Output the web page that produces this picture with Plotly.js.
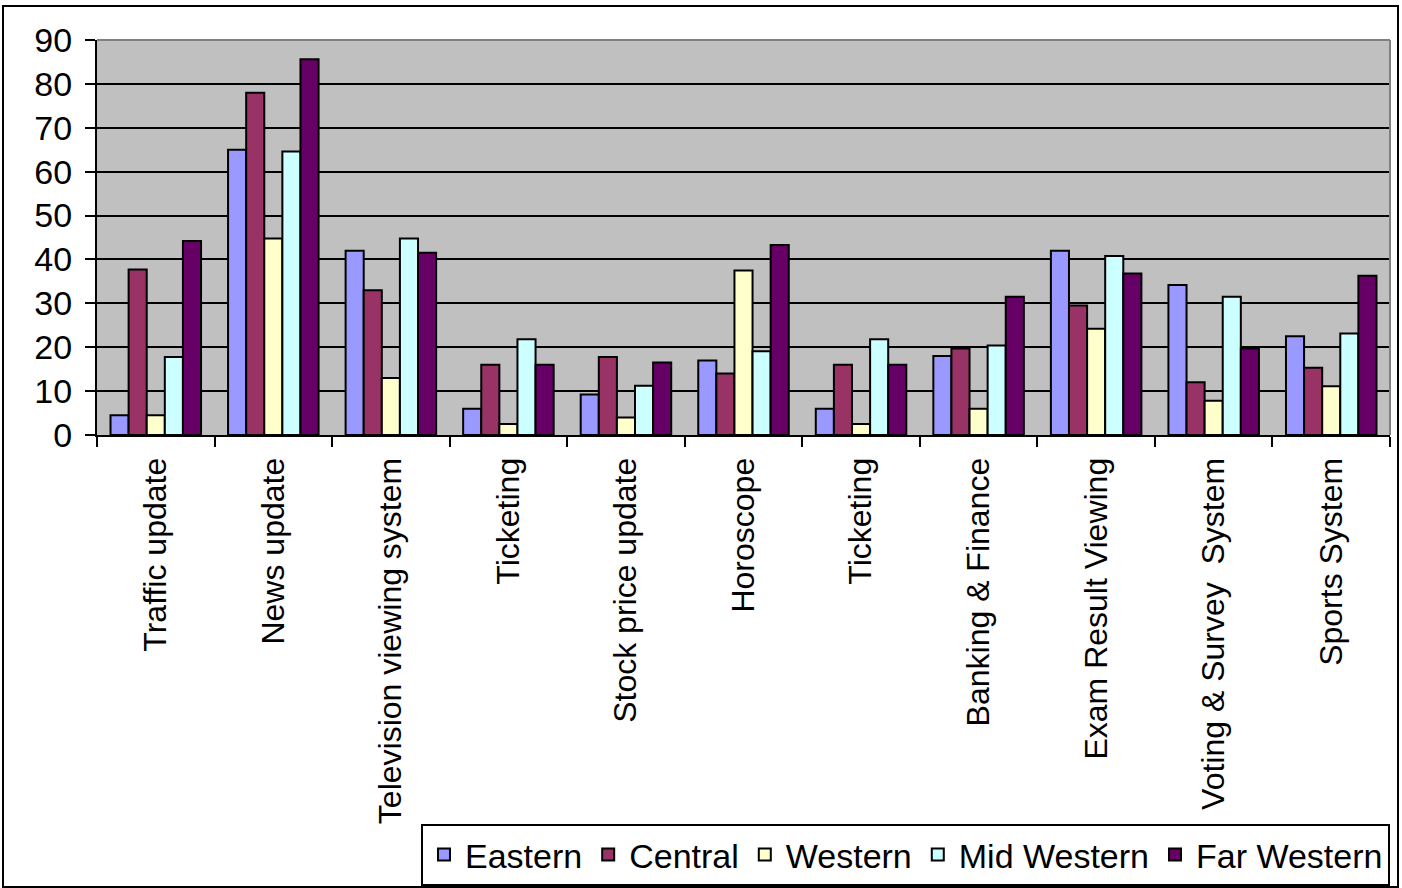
<!DOCTYPE html>
<html>
<head>
<meta charset="utf-8">
<script src="https://cdn.plot.ly/plotly-3.0.1.min.js"></script>
<style>
  html, body { margin: 0; padding: 0; background: #ffffff; overflow: hidden; }
  #chart { width: 1402px; height: 888px; }
</style>
</head>
<body>
<div id="chart"></div>
<script>
// Services by region
const categories = [
  "Traffic update", "News update", "Television viewing system", "Ticketing",
  "Stock price update", "Horoscope", "Ticketing", "Banking & Finance",
  "Exam Result Viewing", "Voting & Survey  System", "Sports System"
];
const regions = ["Eastern", "Central", "Western", "Mid Western", "Far Western"];
const eastern    = [4.5, 65,   42,   6,   9.2, 17,   6,   18,   42,   34.2, 22.5];
const central    = [37.7, 78,  33,   16,  17.8, 14,   16,  19.7, 29.5, 12,   15.3];
const western    = [4.5, 44.8, 13,   2.5, 4,   37.5, 2.5, 6,    24.2, 7.8,  11.1];
const midWestern = [17.8, 64.6, 44.8, 21.8, 11.2, 19.1, 21.8, 20.4, 40.8, 31.5, 23.1];
const farWestern = [44.2, 85.6, 41.5, 16,  16.5, 43.3, 16,  31.5, 36.8, 19.7, 36.3];
const yTicks = [0, 10, 20, 30, 40, 50, 60, 70, 80, 90];

const seriesValues = [eastern, central, western, midWestern, farWestern];
const colors = ["#9999FF", "#993366", "#FFFFCC", "#CCFFFF", "#660066"];

// Repeated category names get a zero-width suffix so each keeps its own slot
const seen = {};
const xKeys = categories.map(c => {
  const n = seen[c] || 0;
  seen[c] = n + 1;
  return c + "\u200B".repeat(n);
});

const FONT = "Liberation Sans, Arial, sans-serif";

const traces = regions.map((name, i) => ({
  type: "bar",
  name: name,
  x: xKeys,
  y: seriesValues[i],
  marker: { color: colors[i], line: { color: "#000000", width: 2 } }
}));

const L = 97, R = 12, T = 40, B = 453;
const W = 1402, H = 888;
const pw = W - L - R, ph = H - T - B;
const px = v => (v - L) / pw;
const py = v => (H - B - v) / ph;

const layout = {
  width: W, height: H,
  margin: { l: L, r: R, t: T, b: B, pad: 0, autoexpand: false },
  paper_bgcolor: "#ffffff",
  plot_bgcolor: "#C0C0C0",
  barmode: "group",
  bargap: 0.23,
  bargroupgap: 0,
  font: { family: FONT, color: "#000000" },
  showlegend: true,
  legend: {
    orientation: "h",
    xref: "container", yref: "container",
    x: 1390 / W, xanchor: "right",
    y: (H - 886) / H, yanchor: "bottom",
    bgcolor: "#ffffff",
    bordercolor: "#000000",
    borderwidth: 2,
    itemwidth: 32,
    font: { family: FONT, size: 34, color: "#000000" },
    itemclick: false
  },
  xaxis: {
    type: "category",
    tickangle: -90,
    tickson: "boundaries",
    ticks: "outside",
    ticklen: 10,
    tickwidth: 2,
    tickcolor: "#000000",
    ticklabelstandoff: 8,
    showline: true,
    linecolor: "#000000",
    linewidth: 2,
    showgrid: false,
    tickfont: { family: FONT, size: 32, color: "#000000" },
    automargin: false
  },
  yaxis: {
    range: [0, 90],
    tickmode: "array",
    tickvals: yTicks,
    ticktext: yTicks.map(String),
    ticks: "outside",
    ticklen: 10,
    tickwidth: 2,
    tickcolor: "#000000",
    ticklabelstandoff: 6,
    showline: true,
    linecolor: "#000000",
    linewidth: 2,
    showgrid: true,
    gridcolor: "#000000",
    gridwidth: 2,
    zeroline: false,
    tickfont: { family: FONT, size: 34, color: "#000000" },
    automargin: false
  },
  shapes: [
    // grey frame on top and right of the plotting area
    { type: "line", xref: "paper", yref: "paper", x0: 0, x1: 1, y0: 1, y1: 1,
      line: { color: "#808080", width: 2 } },
    { type: "line", xref: "paper", yref: "paper", x0: 1, x1: 1, y0: 0, y1: 1,
      line: { color: "#808080", width: 2 } },
    // outer chart border
    { type: "rect", xref: "paper", yref: "paper",
      x0: px(3), x1: px(1398), y0: py(887), y1: py(6),
      line: { color: "#000000", width: 2 }, fillcolor: "rgba(0,0,0,0)" }
  ]
};

Plotly.newPlot("chart", traces, layout, { displayModeBar: false, staticPlot: true });
</script>
</body>
</html>
